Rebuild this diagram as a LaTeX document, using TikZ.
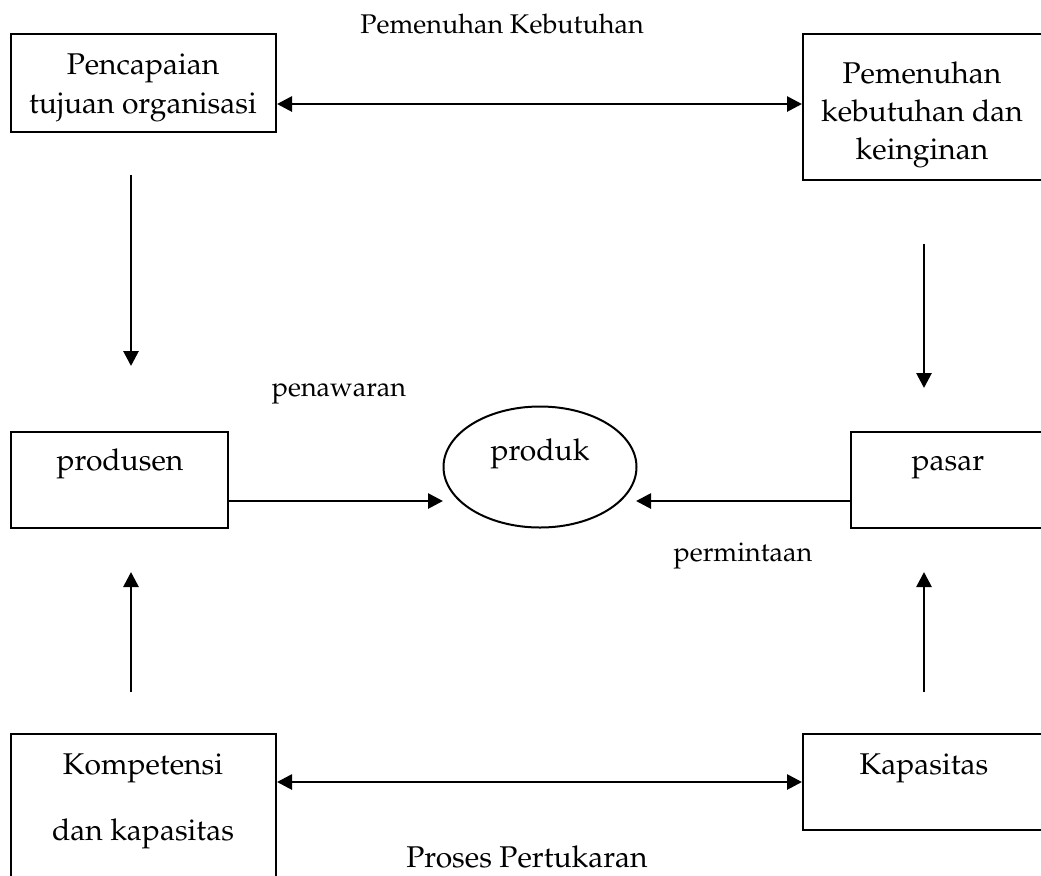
\documentclass[tikz,border=0pt]{standalone}
\usepackage[T1]{fontenc}
\usepackage{mathpazo}
\usetikzlibrary{arrows.meta,shapes.geometric,fit}

\begin{document}
\begin{tikzpicture}[x=0.4pt,y=-0.4pt]
  \tikzstyle{box}=[rectangle,draw=black,line width=0.8pt,inner sep=0pt]
  \tikzstyle{txt}=[anchor=base,inner sep=0pt,font=\fontsize{12}{14}\selectfont]
  \tikzstyle{lbl}=[anchor=base,inner sep=0pt,font=\fontsize{10.8}{13}\selectfont]
  \tikzstyle{arrow}=[line width=1.1pt,-{Triangle[length=6pt,width=6pt]}]
  \tikzstyle{dblarrow}=[line width=1.1pt,{Triangle[length=6pt,width=6pt]}-{Triangle[length=6pt,width=6pt]}]

  \useasboundingbox (0,0) rectangle (1041,875);
  \clip (0,0) rectangle (1041,875);

  % kotak
  \node[box,fit={(11,34) (276,132)}] (tujuan) {};
  \node[box,fit={(803,34) (1045,180)}] (kebutuhan) {};
  \node[box,fit={(11,432) (228,528)}] (produsen) {};
  \node[box,fit={(851,432) (1045,528)}] (pasar) {};
  \node[box,fit={(11,734) (276,900)}] (kompetensi) {};
  \node[box,fit={(803,734) (1045,830)}] (kapasitas) {};
  \node[draw=black,line width=0.8pt,ellipse,inner sep=0pt,minimum width=77.2pt,minimum height=48.4pt] (produk) at (540,467) {};

  % teks dalam kotak
  \node[txt] (tujuan-1) at (143,74) {Pencapaian};
  \node[txt] (tujuan-2) at (143,113) {tujuan organisasi};
  \node[txt] (kebutuhan-1) at (922,83) {Pemenuhan};
  \node[txt] (kebutuhan-2) at (922,121) {kebutuhan dan};
  \node[txt] (kebutuhan-3) at (922,159) {keinginan};
  \node[txt] (produsen-1) at (120,470) {produsen};
  \node[txt] (pasar-1) at (948,470) {pasar};
  \node[txt] (produk-1) at (540,460) {produk};
  \node[txt] (kompetensi-1) at (143,774) {Kompetensi};
  \node[txt] (kompetensi-2) at (143,840) {dan kapasitas};
  \node[txt] (kapasitas-1) at (924,774) {Kapasitas};

  % label
  \node[lbl] (pemenuhan) at (502,33) {Pemenuhan Kebutuhan};
  \node[lbl] (penawaran) at (339,396) {penawaran};
  \node[lbl] (permintaan) at (743,561) {permintaan};
  \node[txt] (pertukaran) at (527,867) {Proses Pertukaran};

  % panah
  \coordinate (y-atas) at (0,104);
  \coordinate (y-bawah) at (0,782);
  \coordinate (masuk-kiri) at (443,501);
  \coordinate (masuk-kanan) at (636,501);
  \draw[dblarrow] (tujuan.east |- y-atas) -- (kebutuhan.west |- y-atas);
  \draw[dblarrow] (kompetensi.east |- y-bawah) -- (kapasitas.west |- y-bawah);
  \draw[arrow] (produsen.east |- masuk-kiri) -- (masuk-kiri);
  \draw[arrow] (pasar.west |- masuk-kanan) -- (masuk-kanan);

  \foreach \name/\x/\a/\b in {kiri-atas/131/175/366, kanan-atas/924/244/388, kiri-bawah/131/692/572, kanan-bawah/924/692/572} {
    \coordinate (\name-a) at (\x,\a);
    \coordinate (\name-b) at (\x,\b);
    \draw[arrow] (\name-a) -- (\name-b);
  }
\end{tikzpicture}
\end{document}
